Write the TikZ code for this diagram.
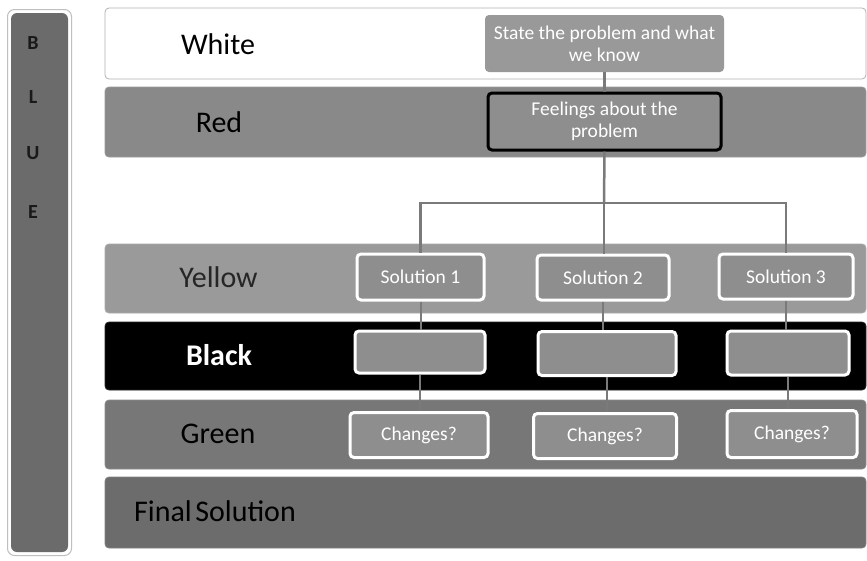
\documentclass[tikz,border=0pt]{standalone}
\usepackage{fontspec}
\setmainfont{Carlito}
\begin{document}
\begin{tikzpicture}[x=1pt,y=-1pt,
  band/.style={draw=#1!85!white,line width=0.8pt,fill=#1,rounded corners=4pt,minimum width=761pt,inner sep=0pt},
  lbl/.style={font=\fontsize{30}{32}\selectfont,inner sep=0pt},
  gbox/.style={fill=boxg,rounded corners=4pt,inner sep=0pt,text=white,align=center,font=\fontsize{19.5}{22}\selectfont},
  wbox/.style={gbox,draw=white,line width=3pt},
  conn/.style={draw=lineg,line width=2.5pt}]
\definecolor{boxg}{HTML}{8E8E8E}
\definecolor{lineg}{HTML}{7A7A7A}
\definecolor{redg}{HTML}{898989}
\definecolor{yelg}{HTML}{9A9A9A}
\definecolor{greeng}{HTML}{777777}
\definecolor{finalg}{HTML}{6C6C6C}
\definecolor{barg}{HTML}{6B6B6B}
\useasboundingbox (0,0) rectangle (867,560);
\fill[white] (0,0) rectangle (867,560);
% blue bar
\node[draw=black!25,line width=1pt,fill=white,rounded corners=7pt,minimum width=64pt,minimum height=546pt,inner sep=0pt] (barouter) at (39.5,282.5) {};
\node[fill=barg,rounded corners=6pt,minimum width=57pt,minimum height=539pt,inner sep=0pt] (bar) at (39.5,282.5) {};
\foreach \l/\yy in {B/43,L/97,U/153,E/212}
  \node[font=\fontsize{20}{21}\selectfont\bfseries,inner sep=0pt,text=black!90] (bar\l) at (33,\yy) {\l};
% bands
\node[draw=black!30,line width=0.8pt,fill=white,rounded corners=4pt,minimum width=761pt,minimum height=71pt,inner sep=0pt] (bwhite) at (485.5,43.5) {};
\node[band=redg,minimum height=70pt] (bred) at (485.5,122) {};
\node[band=yelg,minimum height=69pt] (byellow) at (485.5,278.5) {};
\node[band=black,minimum height=68pt] (bblack) at (485.5,356) {};
\node[band=greeng,minimum height=69pt] (bgreen) at (485.5,434.5) {};
\node[band=finalg,minimum height=71pt] (bfinal) at (485.5,512.5) {};
% labels
\node[lbl] (lwhite) at (218,44) {White};
\node[lbl] (lred) at (219,122) {Red};
\node[lbl,text=black!85] (lyellow) at (218.5,277) {Yellow};
\node[lbl,text=white,font=\fontsize{30}{32}\selectfont\bfseries] (lblack) at (219,355) {Black};
\node[lbl] (lgreen) at (218,434) {Green};
\node[lbl,anchor=west] (lfinal) at (134,511) {Final\hspace{3.5pt}Solution};
% boxes
\node[gbox,fill=boxg!90!white,minimum width=239pt,minimum height=57pt] (state) at (604.5,43.5) {State the problem and what\\we know};
\node[gbox,draw=black,line width=3pt,minimum width=233pt,minimum height=57pt] (feel) at (604.5,121.5) {Feelings about the\\problem};
\node[wbox,minimum width=127pt,minimum height=46pt] (sol1) at (420.5,277) {Solution 1};
\node[wbox,minimum width=132pt,minimum height=45pt] (sol2) at (603,277.5) {Solution 2};
\node[wbox,minimum width=134pt,minimum height=45pt] (sol3) at (786,276.5) {Solution 3};
\node[wbox,minimum width=130pt,minimum height=42pt] (blk1) at (420,352) {};
\node[wbox,minimum width=138pt,minimum height=44pt] (blk2) at (607,353.5) {};
\node[wbox,minimum width=122pt,minimum height=44pt] (blk3) at (788,353) {};
\node[wbox,minimum width=138pt,minimum height=45pt] (ch1) at (419,435) {Changes?};
\node[wbox,minimum width=143pt,minimum height=45pt] (ch2) at (605,436) {Changes?};
\node[wbox,minimum width=130pt,minimum height=47pt] (ch3) at (792,434) {Changes?};
\coordinate (junc) at (604,203);
% connectors
\path[conn] (state.south) -- (feel.north);
\path[conn] (feel.south) -- (junc);
\path[conn] (junc) -| (sol1.north);
\path[conn] (junc) -- (junc |- sol2.north);
\path[conn] (junc) -| (sol3.north);
\path[conn,line width=2pt] (sol1.south) -- (sol1.south |- blk1.north);
\path[conn,line width=2pt] (blk1.south) -- (blk1.south |- ch1.north);
\path[conn,line width=2pt] (sol2.south) -- (sol2.south |- blk2.north);
\path[conn,line width=2pt] (blk2.south) -- (blk2.south |- ch2.north);
\path[conn,line width=2pt] (sol3.south) -- (sol3.south |- blk3.north);
\path[conn,line width=2pt] (blk3.south) -- (blk3.south |- ch3.north);
\end{tikzpicture}
\end{document}
